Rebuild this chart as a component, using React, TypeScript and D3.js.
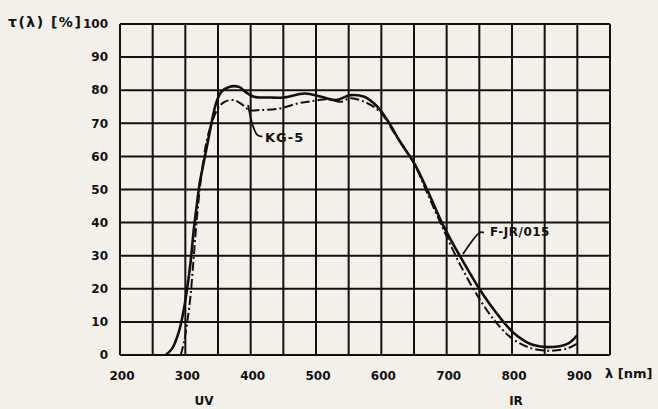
import React, { useRef, useEffect } from "react";
import * as d3 from "d3";

// wavelength [nm] / transmission [%]
const kg5Wave = [293, 298, 303, 308, 313, 318, 325, 333, 342, 350, 360, 375, 388, 398, 415, 445, 472, 498, 518, 538, 553, 574, 598, 620, 650, 670, 695, 720, 750, 775, 800, 830, 860, 885, 900];
const kg5Trans = [0, 4, 10, 18, 30, 42, 55, 65, 71, 74.5, 76.5, 77, 75.5, 74, 74, 74.5, 76, 76.8, 77.3, 76.5, 77.6, 76.5, 73.5, 67, 58, 49, 38, 27.5, 17, 10, 5, 2, 1.3, 2, 3.5];

const firWave = [270, 280, 290, 296, 302, 308, 313, 318, 322, 327, 333, 339, 347, 355, 367, 382, 392, 405, 430, 450, 483, 508, 530, 553, 574, 594, 609, 630, 650, 670, 695, 720, 750, 773, 803, 833, 867, 887, 900];
const firTrans = [0, 2, 7, 12, 19, 28, 38, 46, 52, 57, 63, 69, 76, 79.5, 81, 81, 79.5, 78, 77.8, 77.8, 79, 78, 77, 78.5, 78, 75, 71, 64, 58, 50, 39, 30, 20, 13.5, 6.6, 3, 2.5, 3.6, 6];

// leader lines of the two curve labels, in data units
const kg5Leader: [number, number][] = [[396, 75.5], [403, 69.5], [410, 66.5], [418, 66]];
const firLeader: [number, number][] = [[725, 30.5], [751, 37], [757, 37]];

const gridWave = d3.range(200, 951, 50);
const xTickLabels = [200, 300, 400, 500, 600, 700, 800, 900];
const yTicks = d3.range(0, 101, 10);

const W = 658;
const H = 409;

export default function App() {
  const svgRef = useRef<SVGSVGElement>(null);

  useEffect(() => {
    const svg = d3.select(svgRef.current);
    svg.selectAll("*").remove();

    const x = d3.scaleLinear().domain([200, 950]).range([120, 610]);
    const y = d3.scaleLinear().domain([0, 100]).range([355, 24]);
    const font = "'DejaVu Sans', sans-serif";

    svg.append("rect").attr("width", W).attr("height", H).attr("fill", "#f3f0ea");

    // grid
    const g = svg.append("g").attr("stroke", "#111").attr("stroke-width", 2);
    g.selectAll(".v")
      .data(gridWave)
      .enter()
      .append("line")
      .attr("x1", (d) => x(d))
      .attr("x2", (d) => x(d))
      .attr("y1", y(0))
      .attr("y2", y(100));
    g.selectAll(".h")
      .data(yTicks)
      .enter()
      .append("line")
      .attr("x1", x(200))
      .attr("x2", x(950))
      .attr("y1", (d) => y(d))
      .attr("y2", (d) => y(d));

    // tick labels
    svg.append("g")
      .selectAll("text")
      .data(yTicks)
      .enter()
      .append("text")
      .attr("x", 108)
      .attr("y", (d) => y(d))
      .attr("dy", "0.35em")
      .attr("text-anchor", "end")
      .attr("font-family", font)
      .attr("font-weight", "bold")
      .attr("font-size", 12)
      .attr("fill", "#111")
      .text((d) => d);

    svg.append("g")
      .selectAll("text")
      .data(xTickLabels)
      .enter()
      .append("text")
      .attr("x", (d) => x(d) + 2)
      .attr("y", 380)
      .attr("text-anchor", "middle")
      .attr("font-family", font)
      .attr("font-weight", "bold")
      .attr("font-size", 12)
      .attr("fill", "#111")
      .text((d) => d);

    const label = (tx: number, ty: number, t: string, anchor = "start", size = 12, spacing = 0) =>
      svg.append("text")
        .attr("x", tx)
        .attr("y", ty)
        .attr("text-anchor", anchor)
        .attr("font-family", font)
        .attr("font-weight", "bold")
        .attr("font-size", size)
        .attr("letter-spacing", spacing)
        .attr("fill", "#111")
        .text(t);

    label(8, 27, "τ(λ) [%]", "start", 14, 1.5);
    label(605, 378, "λ [nm]", "start", 13);
    label(204, 405, "UV", "middle", 12);
    label(516, 405, "IR", "middle", 12);

    // curves
    const line = d3
      .line<[number, number]>()
      .x((d) => x(d[0]))
      .y((d) => y(d[1]))
      .curve(d3.curveCatmullRom.alpha(0.5));

    svg.append("path")
      .attr("d", line(d3.zip(kg5Wave, kg5Trans) as [number, number][]))
      .attr("fill", "none")
      .attr("stroke", "#111")
      .attr("stroke-width", 2)
      .attr("stroke-dasharray", "9,3,2,3");

    svg.append("path")
      .attr("d", line(d3.zip(firWave, firTrans) as [number, number][]))
      .attr("fill", "none")
      .attr("stroke", "#111")
      .attr("stroke-width", 2.6);

    // annotations with leader lines
    svg.append("path")
      .attr("d", line(kg5Leader))
      .attr("fill", "none")
      .attr("stroke", "#111")
      .attr("stroke-width", 1.8);
    label(265, 142, "KG-5", "start", 13, 1);

    svg.append("path")
      .attr("d", line(firLeader))
      .attr("fill", "none")
      .attr("stroke", "#111")
      .attr("stroke-width", 1.8);
    label(490, 236, "F-JR/015", "start", 12, 0.5);
  }, []);

  return (
    <svg
      ref={svgRef}
      width={W}
      height={H}
      style={{ position: "absolute", left: 0, top: 0 }}
    />
  );
}
